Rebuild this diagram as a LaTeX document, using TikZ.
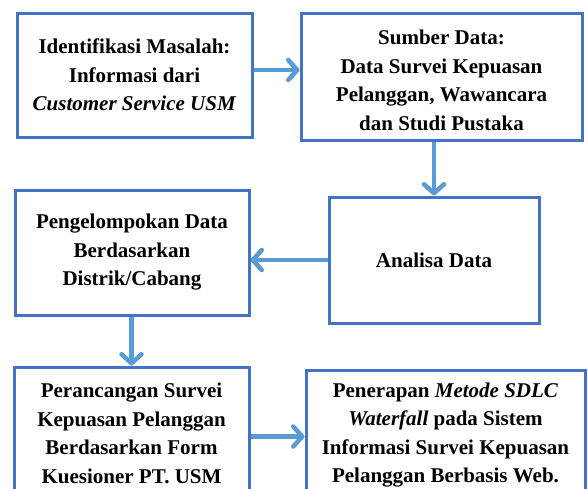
\documentclass[tikz,border=0pt]{standalone}
\usepackage{fontspec}
\setmainfont{Liberation Serif}
\usetikzlibrary{arrows.meta}
\definecolor{boxblue}{HTML}{4472C4}
\definecolor{arrowblue}{HTML}{5B9BD5}
\tikzset{
  steptext/.style={align=center, inner sep=0pt,
    font=\fontsize{21}{28.5}\selectfont\bfseries},
  stepbox/.style={steptext, draw=boxblue, line width=3pt, fill=white},
  flow/.style={draw=arrowblue, line width=4.5pt,
    -{Straight Barb[length=9pt,width=20pt,line cap=round,line join=round]}}
}
\begin{document}
\begin{tikzpicture}[x=1pt,y=-1pt]
\useasboundingbox (0,0) rectangle (588,488);
\clip (0,0) rectangle (588,488);
\node[stepbox, minimum width=235pt, minimum height=124pt] (b1) at (134.5,75)
  {Identifikasi Masalah:\\Informasi dari\\\textit{Customer Service USM}};
\node[stepbox, minimum width=281pt, minimum height=127pt] (b2) at (441.5,76.5) {};
\node[steptext] (t2) at ([yshift=-4pt]b2.center)
  {Sumber Data:\\Data Survei Kepuasan\\Pelanggan, Wawancara\\dan Studi Pustaka};
\node[stepbox, minimum width=234pt, minimum height=125pt] (b3) at (132,252.5)
  {Pengelompokan Data\\Berdasarkan\\Distrik/Cabang};
\node[stepbox, minimum width=210pt, minimum height=126pt] (b4) at (434,260)
  {Analisa Data};
\node[stepbox, minimum width=235pt, minimum height=133pt] (b5) at (131.5,433.5)
  {Perancangan Survei\\Kepuasan Pelanggan\\Berdasarkan Form\\Kuesioner PT. USM};
\node[stepbox, minimum width=279pt, minimum height=130pt] (b6) at (445.5,435)
  {Penerapan \textit{Metode SDLC}\\\textit{Waterfall} pada Sistem\\Informasi Survei Kepuasan\\Pelanggan Berbasis Web.};
\draw[flow] ([yshift=5pt]b1.east) -- ([yshift=5pt]b1.east -| b2.west);
\draw[flow] (b4.north |- b2.south) -- (b4.north);
\draw[flow] (b4.west) -- (b4.west -| b3.east);
\draw[flow] (b3.south -| b5.north) -- (b5.north);
\draw[flow] ([yshift=-3pt]b5.east) -- ([yshift=-3pt]b5.east -| b6.west);
\end{tikzpicture}
\end{document}
